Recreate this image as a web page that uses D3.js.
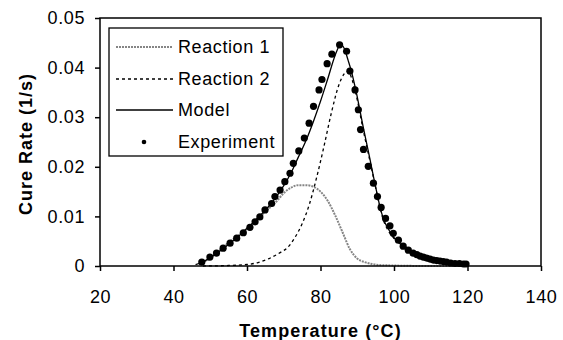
<!DOCTYPE html>
<html>
<head>
<meta charset="utf-8">
<script src="https://cdn.jsdelivr.net/npm/d3@7"></script>
<style>
  body { margin: 0; background: #fff; }
  text { font-family: Arial, "Liberation Sans", sans-serif; }
</style>
</head>
<body>
<svg id="chart" width="563" height="340"></svg>
<script>
// datos
const expT = [47.7, 49.9, 51.7, 53.5, 55.4, 57.2, 59.0, 60.8, 62.2, 63.5, 64.9, 66.7, 67.6, 69.0, 70.3, 71.7, 72.6, 74.1, 75.6, 76.9, 78.1, 79.6, 80.4, 81.8, 83.1, 85.2,
              87.1, 88.0, 89.4, 90.3, 90.9, 91.7, 93.0, 94.4, 95.5, 96.5, 97.7, 98.9, 99.8, 101.2, 102.5, 103.9, 105.2, 106.2, 107.1, 108.0, 108.9, 109.8, 110.7, 111.6, 112.5, 113.4, 114.3, 115.4, 116.6, 117.8, 118.9, 119.6];
const expRate = [0.0008, 0.0018, 0.0026, 0.0036, 0.0046, 0.0056, 0.0067, 0.0078, 0.0089, 0.0099, 0.0113, 0.0126, 0.0140, 0.0153, 0.0170, 0.0187, 0.0207, 0.0232, 0.0258, 0.0288, 0.0322, 0.0355, 0.0376, 0.0408, 0.0427, 0.0446,
                 0.0433, 0.0393, 0.0355, 0.0315, 0.0275, 0.0235, 0.0201, 0.0167, 0.0140, 0.0118, 0.0096, 0.0081, 0.0066, 0.0052, 0.0040, 0.0032, 0.0026, 0.0023, 0.0020, 0.0018, 0.0016, 0.0014, 0.0012, 0.0011, 0.0010, 0.0009, 0.0008, 0.0006, 0.0005, 0.0005, 0.0004, 0.0004];

const modelT = [46, 48, 50, 52, 54, 56, 58, 60, 62, 64, 66, 68, 70, 72, 74, 76, 78, 80, 82, 84, 85.5, 86.5, 87.5, 88.5, 89.8, 91.6, 93.5, 94.5, 95.5, 96.5, 97.5, 98.5, 100, 101.5, 103.5, 106, 108, 110, 112, 115, 118, 120];
const modelRate = [0.0003, 0.0008, 0.0017, 0.0027, 0.0038, 0.0050, 0.0062, 0.0076, 0.0090, 0.0105, 0.0121, 0.0140, 0.0162, 0.0188, 0.0220, 0.0252, 0.0290, 0.0332, 0.0378, 0.0425, 0.0447, 0.0438, 0.0415, 0.0390, 0.0348, 0.0281, 0.0214, 0.0177, 0.0142, 0.0110, 0.0088, 0.0074, 0.0057, 0.0046, 0.0036, 0.0025, 0.0018, 0.0013, 0.0009, 0.0006, 0.0004, 0.0003];

const r1T = [47, 50, 55, 60, 65, 68, 70, 72, 74, 76, 78, 80, 82, 84, 86, 88, 90, 92, 94, 96, 100, 110, 120];
const r1Rate = [0.0003, 0.0016, 0.0047, 0.0075, 0.0110, 0.0130, 0.0147, 0.0158, 0.0163, 0.0163, 0.0160, 0.0150, 0.0131, 0.0102, 0.0068, 0.0034, 0.0015, 0.0008, 0.0004, 0.0002, 0.0001, 0.0, 0.0];

const r2T = [48, 55, 60, 63, 66, 69, 71, 73, 75, 77, 79, 81, 83, 85, 86.5, 87.5, 88.5, 90, 91.6, 93.5, 95, 96, 97, 98, 99, 100, 101.5, 103.5, 106, 108, 110, 112, 115, 118, 120];
const r2Rate = [0.0000, 0.0001, 0.0003, 0.0007, 0.0015, 0.0027, 0.0037, 0.0057, 0.0085, 0.0125, 0.0180, 0.0243, 0.0310, 0.0365, 0.0388, 0.0393, 0.0378, 0.0335, 0.0275, 0.0210, 0.0158, 0.0124, 0.0095, 0.0077, 0.0065, 0.0056, 0.0045, 0.0036, 0.0025, 0.0018, 0.0013, 0.0009, 0.0006, 0.0004, 0.0003];

const xTicks = [20, 40, 60, 80, 100, 120, 140];
const yTicks = [0, 0.01, 0.02, 0.03, 0.04, 0.05];
const legendLabels = ["Reaction 1", "Reaction 2", "Model", "Experiment"];

const svg = d3.select("#chart");
const mLeft = 100, mRight = 541, mTop = 18, mBottom = 266;

const x = d3.scaleLinear().domain([20, 140]).range([mLeft, mRight]);
const y = d3.scaleLinear().domain([0, 0.05]).range([mBottom, mTop]);

const line = d3.line().x(d => x(d[0])).y(d => y(d[1])).curve(d3.curveMonotoneX);

// curvas
const plot = svg.append("g");
plot.append("path")
    .datum(r1T.map((t, i) => [t, r1Rate[i]]))
    .attr("d", line)
    .attr("fill", "none")
    .attr("stroke", "#858585")
    .attr("stroke-width", 2)
    .attr("stroke-dasharray", "2,1");

plot.append("path")
    .datum(r2T.map((t, i) => [t, r2Rate[i]]))
    .attr("d", line)
    .attr("fill", "none")
    .attr("stroke", "#000")
    .attr("stroke-width", 1.3)
    .attr("stroke-dasharray", "3,3");

plot.append("path")
    .datum(modelT.map((t, i) => [t, modelRate[i]]))
    .attr("d", line)
    .attr("fill", "none")
    .attr("stroke", "#000")
    .attr("stroke-width", 1.3);

plot.selectAll("circle.exp")
    .data(expT.map((t, i) => [t, expRate[i]]))
    .enter()
    .append("circle")
    .attr("class", "exp")
    .attr("cx", d => x(d[0]))
    .attr("cy", d => y(d[1]))
    .attr("r", 3.6)
    .attr("fill", "#000");

// ejes
svg.append("g")
    .attr("transform", "translate(0," + mBottom + ")")
    .call(d3.axisBottom(x).tickValues(xTicks).tickSize(5).tickPadding(19))
    .call(g => g.select(".domain").remove());

svg.append("g")
    .attr("transform", "translate(" + mLeft + ",0)")
    .call(d3.axisLeft(y).tickValues(yTicks).tickSize(5).tickPadding(10)
        .tickFormat(d => d === 0 ? "0" : d.toFixed(2)))
    .call(g => g.select(".domain").remove());

svg.selectAll(".tick text")
    .style("font-size", "18px")
    .style("letter-spacing", "0.6px")
    .attr("fill", "#000");
svg.selectAll(".tick line")
    .attr("stroke", "#000")
    .attr("stroke-width", 1.5);

svg.append("rect")
    .attr("x", mLeft)
    .attr("y", mTop)
    .attr("width", mRight - mLeft)
    .attr("height", mBottom - mTop)
    .attr("fill", "none")
    .attr("stroke", "#000")
    .attr("stroke-width", 1.5);

// titulos de ejes
svg.append("text")
    .attr("x", (mLeft + mRight) / 2)
    .attr("y", 337)
    .attr("text-anchor", "middle")
    .style("font-size", "18px")
    .style("font-weight", "bold")
    .style("letter-spacing", "1.1px")
    .text("Temperature (°C)");

svg.append("text")
    .attr("transform", "translate(32,144) rotate(-90)")
    .attr("text-anchor", "middle")
    .style("font-size", "18px")
    .style("font-weight", "bold")
    .style("letter-spacing", "1px")
    .text("Cure Rate (1/s)");

// leyenda
const legend = svg.append("g");
legend.append("rect")
    .attr("x", 109)
    .attr("y", 28)
    .attr("width", 174)
    .attr("height", 128)
    .attr("fill", "#fff")
    .attr("stroke", "#000")
    .attr("stroke-width", 1.3);

const rowY = [47, 79, 110, 142];
const legendStyle = [
    {stroke: "#858585", width: 2, dash: "2,1"},
    {stroke: "#000", width: 1.3, dash: "3,3"},
    {stroke: "#000", width: 1.3, dash: null},
    null
];

legendLabels.forEach((lab, i) => {
    const s = legendStyle[i];
    if (s) {
        legend.append("line")
            .attr("x1", 116).attr("x2", 173)
            .attr("y1", rowY[i]).attr("y2", rowY[i])
            .attr("stroke", s.stroke)
            .attr("stroke-width", s.width)
            .attr("stroke-dasharray", s.dash);
    } else {
        legend.append("circle")
            .attr("cx", 144).attr("cy", rowY[i])
            .attr("r", 2.3)
            .attr("fill", "#000");
    }
    legend.append("text")
        .attr("x", 178)
        .attr("y", rowY[i])
        .attr("dy", "0.35em")
        .style("font-size", "18px")
        .style("letter-spacing", "0.6px")
        .text(lab);
});
</script>
</body>
</html>
